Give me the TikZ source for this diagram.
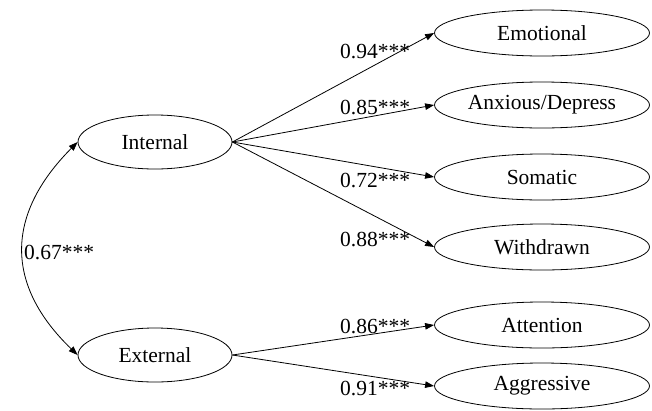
\documentclass[tikz,border=0pt]{standalone}
\usepackage{fontspec}
\setmainfont{Liberation Serif}
\usepackage{tikz}
\usetikzlibrary{shapes.geometric, arrows.meta, positioning}
\tikzstyle{arrow} = [line width=0.8pt,-{Triangle[length=9pt,width=6.5pt]}]
\tikzstyle{latent} = [ellipse, draw, line width=0.8pt, inner sep=0pt, minimum width=154pt, minimum height=54pt]
\tikzstyle{indicator} = [ellipse, draw, line width=0.8pt, inner sep=0pt, minimum width=215pt, minimum height=46pt]
\tikzstyle{coef} = [anchor=west, inner sep=0pt]

\begin{document}
\begin{tikzpicture}[x=1pt, y=-1pt, font=\fontsize{21.5}{25}\selectfont]

   % Page frame
   \useasboundingbox (0,0) rectangle (652,410);

   % Latent factors
   \node[latent] (int) at (155,142) {Internal};
   \node[latent] (ext) at (155,355) {External};

   % Observed scales
   \node[indicator] (emo) at (542,33) {Emotional};
   \node[indicator] (anx) at (542,105) {Anxious/Depress};
   \node[indicator] (som) at (542,177) {Somatic};
   \node[indicator] (wit) at (542,247) {Withdrawn};
   \node[indicator] (att) at (542,325) {Attention};
   \node[indicator] (agg) at (542,386) {Aggressive};

   % Loadings
   \draw[arrow] (int.east) -- (emo.west);
   \draw[arrow] (int.east) -- (anx.west);
   \draw[arrow] (int.east) -- (som.west);
   \draw[arrow] (int.east) -- (wit.west);
   \draw[arrow] (ext.east) -- (att.west);
   \draw[arrow] (ext.east) -- (agg.west);

   % Correlation between factors
   \draw[arrow, {Triangle[length=9pt,width=6.5pt]}-{Triangle[length=9pt,width=6.5pt]}]
      (int.west) .. controls (5,215) and (5,285) .. (ext.west);

   % Coefficients
   \node[coef] (c1) at (340,52) {0.94***};
   \node[coef] (c2) at (340,107) {0.85***};
   \node[coef] (c3) at (340,180) {0.72***};
   \node[coef] (c4) at (340,239) {0.88***};
   \node[coef] (c5) at (340,326) {0.86***};
   \node[coef] (c6) at (340,388) {0.91***};
   \node[coef] (r1) at (24,252) {0.67***};

\end{tikzpicture}
\end{document}
